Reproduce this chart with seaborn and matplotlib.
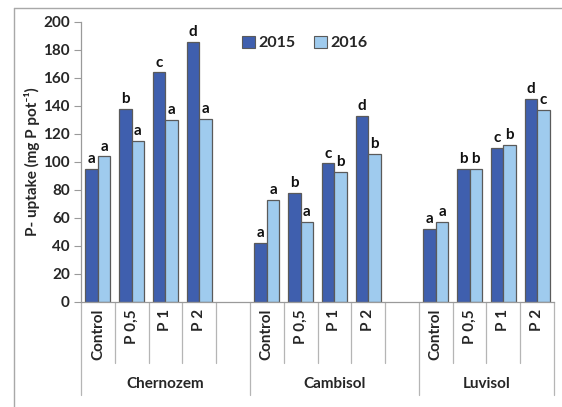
import numpy as np
import pandas as pd
import seaborn as sns
from matplotlib import pyplot as plt
from matplotlib.lines import Line2D
from matplotlib.transforms import blended_transform_factory

soils = ["Chernozem", "Cambisol", "Luvisol"]
treatments = ["Control", "P 0,5", "P 1", "P 2"]
years = ["2015", "2016"]

uptake_2015 = [95, 138, 164, 186, 42, 78, 99, 133, 52, 95, 110, 145]
uptake_2016 = [104, 115, 130, 131, 73, 57, 93, 106, 57, 95, 112, 137]
letters_2015 = ["a", "b", "c", "d", "a", "b", "c", "d", "a", "b", "c", "d"]
letters_2016 = ["a", "a", "a", "a", "a", "a", "b", "b", "a", "b", "b", "c"]

COLORS = ["#3f5fae", "#9fcbee"]
EDGE = "#5a5a5a"


def main():
    rows = []
    for i, soil in enumerate(soils):
        for j, tr in enumerate(treatments):
            k = i * 4 + j
            rows.append({"slot": f"{soil}|{tr}", "year": "2015", "value": uptake_2015[k], "letter": letters_2015[k]})
            rows.append({"slot": f"{soil}|{tr}", "year": "2016", "value": uptake_2016[k], "letter": letters_2016[k]})
    df = pd.DataFrame(rows)

    # slot order with an empty slot after the first two soils
    order = []
    for i, soil in enumerate(soils):
        order += [f"{soil}|{tr}" for tr in treatments]
        if i < len(soils) - 1:
            order.append(f"gap{i}")

    sns.set_theme(style="white")
    plt.rcParams["font.family"] = ["Lato", "DejaVu Sans"]
    plt.rcParams["font.weight"] = "bold"

    fig = plt.figure(figsize=(5.62, 4.07), dpi=100)
    ax = fig.add_axes([0.1441, 0.258, 0.8417, 0.688])

    sns.barplot(df, x="slot", y="value", hue="year", order=order, hue_order=years,
                palette=COLORS, width=0.74, gap=0, edgecolor=EDGE, linewidth=0.9,
                saturation=1, errorbar=None, legend=False, ax=ax)

    # significance letters
    for container, year in zip(ax.containers, years):
        sub = df[df["year"] == year].set_index("slot")
        labels = [sub.loc[s, "letter"] for s in order if s in sub.index]
        ax.bar_label(container, labels=labels, padding=2, fontsize=11, fontweight="bold", color="#111111")

    ax.set_ylim(0, 200)
    ax.set_xlim(-0.5, len(order) - 0.5)
    ax.set_yticks(np.arange(0, 201, 20))
    ax.tick_params(axis="y", labelsize=11, length=5, width=0.8, color="#9a9a9a", pad=3, left=True)
    for lab in ax.get_yticklabels():
        lab.set_fontweight("bold")
    ax.set_ylabel("P- uptake (mg P pot\u207b\u00b9)", fontsize=11, fontweight="bold", labelpad=2)
    ax.set_xlabel("")
    ax.set_xticks([])
    sns.despine(ax=ax)
    for side in ["left", "bottom"]:
        ax.spines[side].set_color("#9a9a9a")
        ax.spines[side].set_linewidth(0.9)

    # multi-level category axis
    tr = blended_transform_factory(ax.transData, ax.transAxes)
    frac = 1 / 280  # axes fraction per pixel (axes height 280 px)
    inner_bottom = -61 * frac
    outer_bottom = -93 * frac
    for pos in range(len(order) + 1):
        x = pos - 0.5
        is_group = pos in (0, 5, 10, 14)
        ax.add_line(Line2D([x, x], [0, outer_bottom if is_group else inner_bottom],
                           transform=tr, color="#b5b5b5", lw=0.9, clip_on=False))
    for pos, slot in enumerate(order):
        if "|" in slot:
            ax.text(pos, -7 * frac, slot.split("|")[1], transform=tr, rotation=90,
                    ha="center", va="top", fontsize=11, fontweight="bold")
    group_centers = [2, 7, 11.5]
    for soil, cx in zip(soils, group_centers):
        ax.text(cx, -82 * frac, soil, transform=tr, ha="center", va="center",
                fontsize=11, fontweight="bold")

    # legend
    handles = [plt.Rectangle((0, 0), 1, 1, facecolor=c, edgecolor=EDGE, lw=0.8) for c in COLORS]
    leg = fig.legend(handles, years, loc="center left", bbox_to_anchor=(242 / 562, 1 - 43 / 407),
                     ncol=2, frameon=False, fontsize=11.5, handlelength=0.8, handleheight=0.8,
                     handletextpad=0.2, columnspacing=1.2, borderaxespad=0, borderpad=0)
    for t in leg.get_texts():
        t.set_fontweight("bold")

    # chart area border
    fig.add_artist(Line2D([14 / 562, 1], [1 - 8 / 407, 1 - 8 / 407], color="#a8a8a8", lw=1))
    fig.add_artist(Line2D([14 / 562, 14 / 562], [0, 1 - 8 / 407], color="#a8a8a8", lw=1))

    fig.savefig("out.png", dpi=100)


if __name__ == "__main__":
    main()
